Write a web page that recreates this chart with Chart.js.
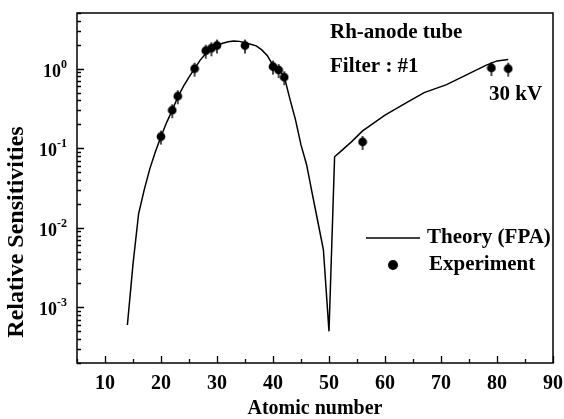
<!DOCTYPE html>
<html>
<head>
<meta charset="utf-8">
<script src="https://cdn.jsdelivr.net/npm/chart.js@4"></script>
<style>
  html, body { margin: 0; padding: 0; background: #fff; }
</style>
</head>
<body>
<canvas id="myChart" width="564" height="419"></canvas>
<script>
'use strict';

// theory curve (FPA), atomic number vs relative sensitivity
let theoryZ = [14, 15, 16, 17, 18, 19, 20, 21, 22, 23, 24, 25, 26, 27, 28, 29, 30, 31, 32, 33, 34, 35, 36, 37, 38, 39, 40, 41, 42,
  43, 44, 45, 46, 47, 48, 49, 50, 51, 52, 54, 56, 60, 64, 67, 71, 74, 78, 80, 82];
let theoryS = [0.0006, 0.0035, 0.015, 0.030, 0.055, 0.090, 0.14, 0.21, 0.30, 0.44, 0.60, 0.78, 1.0, 1.28, 1.55, 1.78, 1.95, 2.08, 2.18, 2.23, 2.2, 2.12, 2.02, 1.93, 1.72, 1.45, 1.1, 0.97, 0.8,
  0.42, 0.23, 0.11, 0.062, 0.027, 0.012, 0.0053, 0.0005, 0.078, 0.09, 0.12, 0.165, 0.26, 0.38, 0.5, 0.63, 0.8, 1.1, 1.25, 1.3];

// measured points
let expZ = [20, 22, 23, 26, 28, 29, 30, 35, 40, 41, 42, 56, 79, 82];
let expS = [0.14, 0.30, 0.45, 1.0, 1.68, 1.8, 1.95, 1.95, 1.06, 0.96, 0.78, 0.12, 1.02, 1.0];

let xMin = 5, xMax = 90, xStep = 5;
let yMin = 2e-4, yMax = 5;
let yDecades = [-4, -3, -2, -1, 0];

let seriesNames = ['Theory (FPA)', 'Experiment'];
let xTitle = 'Atomic number';
let yTitle = 'Relative Sensitivities';
let notes = ['Rh-anode tube', 'Filter : #1', '30 kV'];

const serif = "'Liberation Serif', 'Times New Roman', serif";

function toPoints(xs, ys) {
  return xs.map((x, i) => ({x: x, y: ys[i]}));
}

// filled dot with a small vertical error bar
function dotWithBar() {
  let c = document.createElement('canvas');
  c.width = 10;
  c.height = 18;
  let g = c.getContext('2d');
  g.fillStyle = '#000';
  g.beginPath();
  g.arc(5, 9, 4.4, 0, Math.PI * 2);
  g.fill();
  g.fillRect(4.3, 3, 1.4, 14);
  return c;
}

function isDecade(v) {
  let e = Math.log10(v);
  return Math.abs(e - Math.round(e)) < 1e-6;
}

const decor = {
  id: 'decor',
  afterDraw(chart) {
    let ctx = chart.ctx;
    let a = chart.chartArea;
    let xs = chart.scales.x;
    let ys = chart.scales.y;
    ctx.save();
    ctx.strokeStyle = '#000';
    ctx.fillStyle = '#000';

    // frame
    ctx.lineWidth = 1.5;
    ctx.strokeRect(a.left, a.top, a.right - a.left, a.bottom - a.top);

    // inward ticks, bottom axis
    ctx.lineWidth = 1.3;
    ctx.beginPath();
    xs.ticks.forEach(t => {
      let px = Math.round(xs.getPixelForValue(t.value)) + 0.5;
      let len = t.value % 10 === 0 ? 7 : 4;
      ctx.moveTo(px, a.bottom);
      ctx.lineTo(px, a.bottom - len);
    });
    // inward ticks, left axis
    ys.ticks.forEach(t => {
      let py = Math.round(ys.getPixelForValue(t.value)) + 0.5;
      ctx.moveTo(a.left, py);
      ctx.lineTo(a.left + (isDecade(t.value) ? 7 : 4), py);
    });
    ctx.stroke();

    // y tick labels as 10 with a raised exponent
    ys.ticks.forEach(t => {
      if (!isDecade(t.value)) return;
      let py = ys.getPixelForValue(t.value);
      if (py > a.bottom - 2) return;
      let ex = String(Math.round(Math.log10(t.value)));
      ctx.font = 'bold 12px ' + serif;
      let ew = ctx.measureText(ex).width;
      let right = a.left - 10;
      ctx.textAlign = 'left';
      ctx.textBaseline = 'alphabetic';
      ctx.fillText(ex, right - ew, py - 1);
      ctx.font = 'bold 18px ' + serif;
      ctx.textAlign = 'right';
      ctx.fillText('10', right - ew, py + 8);
    });

    // axis titles
    ctx.font = 'bold 20px ' + serif;
    ctx.textAlign = 'center';
    ctx.textBaseline = 'middle';
    ctx.fillText(xTitle, (a.left + a.right) / 2, 409);
    ctx.save();
    ctx.translate(17, 232);
    ctx.rotate(-Math.PI / 2);
    ctx.font = 'bold 24px ' + serif;
    ctx.fillText(yTitle, 0, 0);
    ctx.restore();

    // notes
    ctx.font = 'bold 21px ' + serif;
    ctx.textAlign = 'left';
    ctx.textBaseline = 'alphabetic';
    ctx.fillText(notes[0], 330, 38);
    ctx.fillText(notes[1], 330, 72);
    ctx.fillText(notes[2], 489, 100);

    // legend
    ctx.lineWidth = 1.5;
    ctx.beginPath();
    ctx.moveTo(366, 238);
    ctx.lineTo(420, 238);
    ctx.stroke();
    ctx.beginPath();
    ctx.arc(393, 265, 5, 0, Math.PI * 2);
    ctx.fill();
    ctx.textBaseline = 'middle';
    ctx.fillText(seriesNames[0], 427, 238);
    ctx.fillText(seriesNames[1], 429, 265);

    ctx.restore();
  }
};

let ctx = document.getElementById('myChart').getContext('2d');

let chart = new Chart(ctx, {
  type: 'scatter',
  data: {
    datasets: [
      {
        label: seriesNames[0],
        data: toPoints(theoryZ, theoryS),
        showLine: true,
        borderColor: '#000',
        borderWidth: 1.5,
        pointRadius: 0,
        tension: 0
      },
      {
        label: seriesNames[1],
        data: toPoints(expZ, expS),
        pointStyle: dotWithBar(),
        pointRadius: 5,
        backgroundColor: '#000',
        borderColor: '#000'
      }
    ]
  },
  options: {
    responsive: false,
    animation: false,
    devicePixelRatio: 1,
    layout: {padding: {top: 13, right: 11, left: 0, bottom: 0}},
    plugins: {
      legend: {display: false},
      tooltip: {enabled: false}
    },
    scales: {
      x: {
        type: 'linear',
        min: xMin,
        max: xMax,
        grid: {display: false},
        border: {display: false},
        ticks: {
          stepSize: xStep,
          autoSkip: false,
          maxRotation: 0,
          padding: 1,
          color: '#000',
          font: {family: serif, size: 20, weight: 'bold'},
          callback: v => (v % 10 === 0 ? v : '')
        },
        afterFit: s => { s.height = 56; }
      },
      y: {
        type: 'logarithmic',
        min: yMin,
        max: yMax,
        grid: {display: false},
        border: {display: false},
        ticks: {display: false},
        // 1..9 per decade, cut to the axis range
        afterBuildTicks: s => {
          let list = [];
          yDecades.forEach(e => {
            for (let m = 1; m <= 9; m++) {
              let v = m * Math.pow(10, e);
              if (v >= yMin * 0.999 && v <= yMax * 1.001) list.push({value: v});
            }
          });
          s.ticks = list;
        },
        afterFit: s => { s.width = 77; }
      }
    }
  },
  plugins: [decor]
});
</script>
</body>
</html>
